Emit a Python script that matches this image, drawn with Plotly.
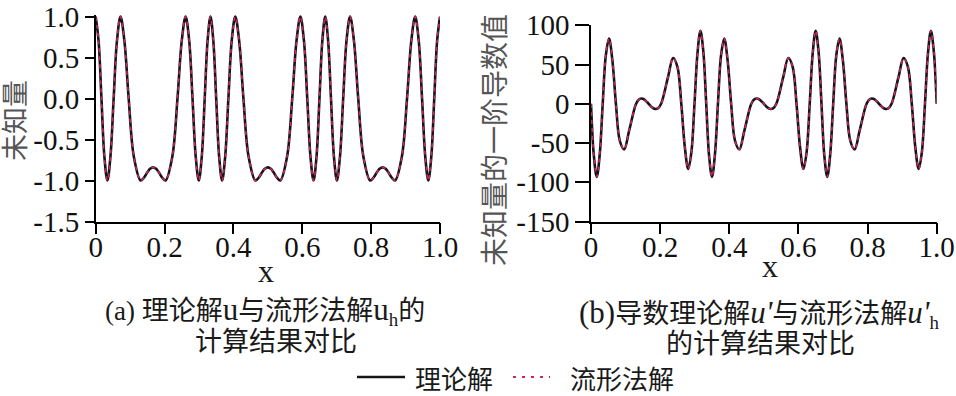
import plotly.graph_objects as go

# ---- data (x positions, u and u' values) ----
x_vals = [
    0.0000, 0.0083, 0.0167, 0.0252, 0.0339, 0.0428, 0.0521, 0.0618, 0.0721, 0.0833,
    0.0958, 0.1107, 0.1305, 0.1400, 0.1500, 0.1580, 0.1667,
    0.1753, 0.1833, 0.1933, 0.2028, 0.2226, 0.2375, 0.2500, 0.2612, 0.2715, 0.2812,
    0.2905, 0.2994, 0.3081, 0.3166, 0.3250, 0.3333,
    0.3416, 0.3500, 0.3585, 0.3672, 0.3761, 0.3854, 0.3951, 0.4054, 0.4166, 0.4291,
    0.4440, 0.4638, 0.4733, 0.4833, 0.4913, 0.5000,
    0.5086, 0.5166, 0.5266, 0.5361, 0.5559, 0.5708, 0.5833, 0.5945, 0.6048, 0.6145,
    0.6238, 0.6327, 0.6414, 0.6499, 0.6583, 0.6667,
    0.6750, 0.6834, 0.6919, 0.7006, 0.7095, 0.7188, 0.7285, 0.7388, 0.7500, 0.7625,
    0.7774, 0.7972, 0.8067, 0.8167, 0.8247, 0.8333,
    0.8420, 0.8500, 0.8600, 0.8695, 0.8893, 0.9042, 0.9167, 0.9279, 0.9382, 0.9479,
    0.9572, 0.9661, 0.9748, 0.9833, 0.9917, 1.0000,
]
u_vals = [
    1.000, 0.707, 0.000, -0.707, -1.000, -0.707, 0.000, 0.707, 1.000, 0.707,
    0.000, -0.707, -1.000, -0.966, -0.900, -0.857, -0.839,
    -0.857, -0.900, -0.966, -1.000, -0.707, 0.000, 0.707, 1.000, 0.707, 0.000,
    -0.707, -1.000, -0.707, 0.000, 0.707, 1.000,
    0.707, 0.000, -0.707, -1.000, -0.707, 0.000, 0.707, 1.000, 0.707, 0.000,
    -0.707, -1.000, -0.966, -0.900, -0.857, -0.839,
    -0.857, -0.900, -0.966, -1.000, -0.707, 0.000, 0.707, 1.000, 0.707, 0.000,
    -0.707, -1.000, -0.707, 0.000, 0.707, 1.000,
    0.707, 0.000, -0.707, -1.000, -0.707, 0.000, 0.707, 1.000, 0.707, 0.000,
    -0.707, -1.000, -0.966, -0.900, -0.857, -0.839,
    -0.857, -0.900, -0.966, -1.000, -0.707, 0.000, 0.707, 1.000, 0.707, 0.000,
    -0.707, -1.000, -0.707, 0.000, 0.707, 1.000,
]
du_vals = [
    0.0, -66.4, -93.1, -64.8, 0.0, 61.3, 83.1, 55.7, 0.0, -47.1,
    -58.3, -33.6, 0.0, 6.0, 6.4, 4.0, 0.0,
    -4.0, -6.4, -6.0, 0.0, 33.6, 58.3, 47.1, 0.0, -55.7, -83.1,
    -61.3, 0.0, 64.8, 93.1, 66.4, 0.0,
    -66.4, -93.1, -64.8, 0.0, 61.3, 83.1, 55.7, 0.0, -47.1, -58.3,
    -33.6, 0.0, 6.0, 6.4, 4.0, 0.0,
    -4.0, -6.4, -6.0, 0.0, 33.6, 58.3, 47.1, 0.0, -55.7, -83.1,
    -61.3, 0.0, 64.8, 93.1, 66.4, 0.0,
    -66.4, -93.1, -64.8, 0.0, 61.3, 83.1, 55.7, 0.0, -47.1, -58.3,
    -33.6, 0.0, 6.0, 6.4, 4.0, 0.0,
    -4.0, -6.4, -6.0, 0.0, 33.6, 58.3, 47.1, 0.0, -55.7, -83.1,
    -61.3, 0.0, 64.8, 93.1, 66.4, 0.0,
]

x_tickvals = [0, 0.2, 0.4, 0.6, 0.8, 1.0]
x_ticktext = ["0", "0.2", "0.4", "0.6", "0.8", "1.0"]
u_tickvals = [-1.5, -1.0, -0.5, 0.0, 0.5, 1.0]
u_ticktext = ["-1.5", "-1.0", "-0.5", "0.0", "0.5", "1.0"]
du_tickvals = [-150, -100, -50, 0, 50, 100]
du_ticktext = ["-150", "-100", "-50", "0", "50", "100"]

series_names = ["理论解", "流形法解"]

W, H = 956, 396
def px(v):
    return v / W
def py(v):
    return 1 - v / H

BLACK = "#151515"
RED = "#c8285f"
TICKFONT = dict(family="Liberation Serif, serif", size=29, color="#111111")
CJK = "Liberation Serif, Noto Sans CJK SC, sans-serif"

fig = go.Figure()

for xa, ya, yv in [("x", "y", u_vals), ("x2", "y2", du_vals)]:
    fig.add_trace(go.Scatter(x=x_vals, y=yv, xaxis=xa, yaxis=ya, mode="lines",
                             line=dict(color=BLACK, width=2.6, shape="spline", smoothing=1),
                             name=series_names[0], showlegend=False, hoverinfo="skip"))
    fig.add_trace(go.Scatter(x=x_vals, y=yv, xaxis=xa, yaxis=ya, mode="lines",
                             line=dict(color=RED, width=1.6, shape="spline", smoothing=1, dash="4px,4px"),
                             name=series_names[1], showlegend=False, hoverinfo="skip"))

axis_common = dict(showline=True, linecolor="black", linewidth=1.5, ticks="outside",
                   tickwidth=1.5, tickcolor="black", showgrid=False, zeroline=False,
                   tickfont=TICKFONT, automargin=False)

fig.update_layout(
    width=W, height=H, margin=dict(l=0, r=0, t=0, b=0, autoexpand=False),
    paper_bgcolor="white", plot_bgcolor="white",
    xaxis=dict(domain=[px(95.7), px(440)], range=[0, 1], anchor="y",
               tickvals=x_tickvals, ticktext=x_ticktext, ticklen=11,
               ticklabelstandoff=-12, **axis_common),
    yaxis=dict(domain=[py(221.5), py(15)], range=[-1.5, 1.02], anchor="x",
               tickvals=u_tickvals, ticktext=u_ticktext, ticklen=9, **axis_common),
    xaxis2=dict(domain=[px(591), px(936.7)], range=[0, 1], anchor="y2",
                tickvals=x_tickvals, ticktext=x_ticktext, ticklen=11,
                ticklabelstandoff=-12, **axis_common),
    yaxis2=dict(domain=[py(221.5), py(25.3)], range=[-150, 100], anchor="x2",
                tickvals=du_tickvals, ticktext=du_ticktext, ticklen=14, **axis_common),
)

def ann(text, x, y, size, color="#1a1a1a", xanchor="center", angle=0, family=CJK):
    fig.add_annotation(text=text, x=px(x), y=py(y), xref="paper", yref="paper",
                       xanchor=xanchor, yanchor="middle", showarrow=False,
                       textangle=angle, font=dict(family=family, size=size, color=color))

# axis titles
ann("未知量", 16, 121, 27, color="#555555", angle=-90)
ann("未知量的一阶导数值", 495, 140, 28, color="#555555", angle=-90)
ann("x", 266, 271, 32, family="Liberation Serif, serif")
ann("x", 770, 266, 32, family="Liberation Serif, serif")

# captions
L = '<span style="font-size:31px">'
ann("(a) 理论解" + L + "u</span>与流形法解" + L + "u</span><sub>h</sub>的", 265, 311, 27)
ann("计算结果对比", 276, 342, 27)
ann(L + "(b)</span>导数理论解" + L + "<i>u'</i></span>与流形法解" + L + "<i>u'</i></span><sub>h</sub>",
    759, 314, 27)
ann("的计算结果对比", 760, 344, 27)

# legend
fig.add_shape(type="line", xref="paper", yref="paper", x0=px(357), x1=px(405),
              y0=py(377), y1=py(377), line=dict(color=BLACK, width=2.4))
ann(series_names[0], 413, 380, 26, xanchor="left")
fig.add_shape(type="line", xref="paper", yref="paper", x0=px(513), x1=px(550),
              y0=py(377), y1=py(377), line=dict(color=RED, width=2, dash="3px,6px"))
ann(series_names[1], 568, 380, 26, xanchor="left")

fig.write_html("out.html", config={"displayModeBar": False},
               post_script="document.body.style.margin='0';")
